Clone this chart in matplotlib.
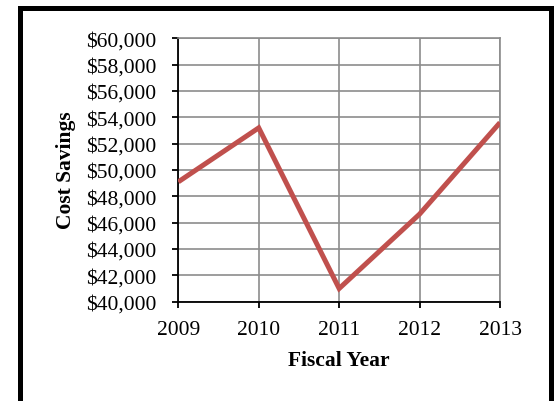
import matplotlib
matplotlib.use("Agg")
import matplotlib.pyplot as plt
from matplotlib.patches import Rectangle
from matplotlib.ticker import FuncFormatter

years = ["2009", "2010", "2011", "2012", "2013"]
savings = [49100, 53200, 41000, 46650, 53600]
y_ticks = list(range(40000, 60001, 2000))

plt.rcParams['font.family'] = ['Liberation Serif', 'DejaVu Serif']

fig = plt.figure(figsize=(5.56, 4.02), dpi=100)
W, H = 556, 402
ax = fig.add_axes([178.3 / W, 1 - 302.7 / H, (500 - 178.3) / W, (302.7 - 39.3) / H])

x = list(range(len(years)))
ax.plot(x, savings, color='#C0504D', lw=3.6, solid_capstyle='butt', solid_joinstyle='miter', zorder=3)

ax.set_xlim(0, len(years) - 1)
ax.set_ylim(40000, 60000)
ax.set_xticks(x)
ax.set_xticklabels(years)
ax.set_yticks(y_ticks)
ax.yaxis.set_major_formatter(FuncFormatter(lambda v, p: "${:,.0f}".format(v)))
ax.grid(True, color='#8c8c8c', lw=1.2)
ax.set_axisbelow(True)
for s in ['top', 'right']:
    ax.spines[s].set_color('#8c8c8c')
    ax.spines[s].set_linewidth(1.2)
for s in ['left', 'bottom']:
    ax.spines[s].set_color('black')
    ax.spines[s].set_linewidth(1.3)
ax.tick_params(axis='both', direction='out', length=4.5, width=1.3, color='black',
               labelsize=15.5)
ax.tick_params(axis='y', pad=11.5)
ax.tick_params(axis='x', pad=9)

fig.text(66 / W, 1 - 170 / H, "Cost Savings", rotation=90, ha='center', va='center',
         fontsize=15.5, fontweight='bold')
fig.text(339 / W, 1 - 361 / H, "Fiscal Year", ha='center', va='center',
         fontsize=15.5, fontweight='bold')

fig.patches.append(Rectangle((19.5 / W, -0.1), (550.5 - 19.5) / W, (1 - 9 / H) + 0.1,
                             transform=fig.transFigure, fill=False, edgecolor='black',
                             lw=3.6, joinstyle='miter', zorder=10))

fig.savefig("out.png", dpi=100)
